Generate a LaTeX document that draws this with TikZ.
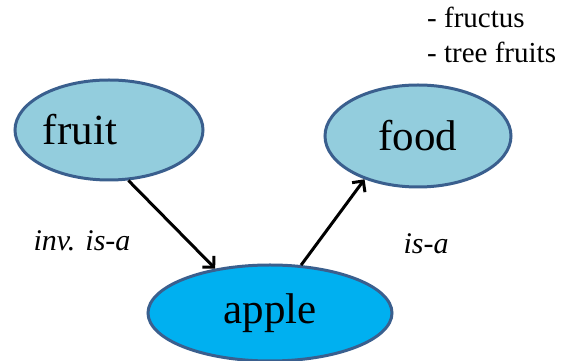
\documentclass[tikz,border=0pt]{standalone}
\usepackage{fontspec}
\setmainfont{Liberation Serif}
\usepackage{xcolor}
\definecolor{termFill}{HTML}{93CDDD}
\definecolor{termLine}{HTML}{3A5F8E}
\definecolor{appleFill}{HTML}{00B0F0}
\usetikzlibrary{shapes.geometric,arrows.meta}

\begin{document}
\begin{tikzpicture}[x=1pt,y=1pt,
  term/.style={ellipse, draw=termLine, line width=3pt, fill=termFill, inner sep=0pt,
    font=\fontsize{43}{50}\selectfont},
  rel/.style={font=\fontsize{30}{36}\selectfont\itshape},
  isarrow/.style={line width=3pt, -{Straight Barb[length=8pt,width=16pt,line width=3pt]}}]
  \useasboundingbox (0,0) rectangle (565,361);
  \node[term, minimum width=188pt, minimum height=100pt,
    label={[font=\fontsize{43}{50}\selectfont, xshift=-29pt]center:fruit}] (fruit) at (109,231) {};
  \node[term, minimum width=186pt, minimum height=102pt] (food) at (418,225) {food};
  \node[term, fill=appleFill, minimum width=244pt, minimum height=96pt] (apple) at (270,48) {apple};
  \draw[isarrow] (fruit.-69) -- (apple.141);
  \draw[isarrow] (apple.57) -- (food.219);
  \node[rel] (invisa) at (82,120) {inv. is-a};
  \node[rel] (isa) at (426,117) {is-a};
  \node[anchor=base west, align=left, inner sep=0pt, font=\fontsize{29}{35}\selectfont]
    (notes) at (427,298) {- fructus\\- tree fruits};
\end{tikzpicture}
\end{document}
